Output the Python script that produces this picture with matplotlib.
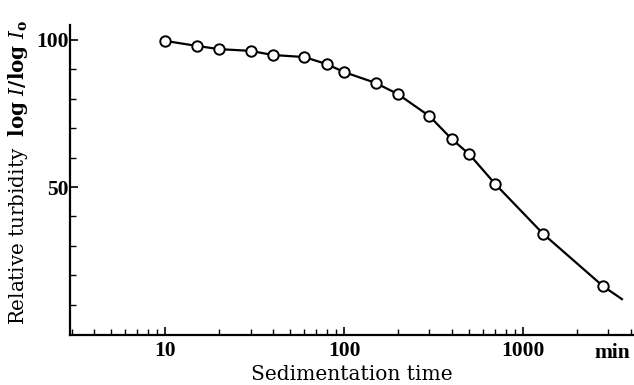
import matplotlib
matplotlib.use("Agg")
import matplotlib.pyplot as plt
from matplotlib.ticker import FixedLocator, NullFormatter, FixedFormatter
import matplotlib.transforms as mtransforms

# Data
time_min = [10, 15, 20, 30, 40, 60, 80, 100, 150, 200, 300, 400, 500, 700, 1300, 2800]
turbidity = [99.7, 98.0, 96.9, 96.3, 94.9, 94.2, 91.8, 89.1, 85.4, 81.6, 74.1, 66.3, 61.2, 51.0, 34.0, 16.3]
# curve continues past the last point
curve_end_time = [3570]
curve_end_val = [11.9]

x_major = [10, 100, 1000]
x_major_labels = ["10", "100", "1000"]
y_major = [50, 100]
y_minor = [10, 20, 30, 40, 60, 70, 80, 90]

plt.rcParams['font.family'] = ['DejaVu Serif']
plt.rcParams['mathtext.fontset'] = 'dejavuserif'

fig = plt.figure(figsize=(6.34, 3.85), dpi=100)
ax = fig.add_axes([70/634, 50/385, 564/634, 310/385])

ax.plot(time_min + curve_end_time, turbidity + curve_end_val, color='black', lw=1.6, zorder=2)
ax.plot(time_min, turbidity, linestyle='none', marker='o', ms=7.5, mfc='white', mec='black', mew=1.4, zorder=3)

ax.set_xscale('log')
ax.set_xlim(2.94, 4170)
ax.set_ylim(-0.3, 105.1)

for s in ['top', 'right']:
    ax.spines[s].set_visible(False)
for s in ['left', 'bottom']:
    ax.spines[s].set_linewidth(1.6)

ax.xaxis.set_major_locator(FixedLocator(x_major))
ax.xaxis.set_major_formatter(FixedFormatter(x_major_labels))
minors = [m * d for d in [1, 10, 100, 1000] for m in range(2, 10) if 3 <= m * d <= 4100]
ax.xaxis.set_minor_locator(FixedLocator(minors))
ax.xaxis.set_minor_formatter(NullFormatter())

ax.yaxis.set_major_locator(FixedLocator(y_major))
ax.yaxis.set_minor_locator(FixedLocator(y_minor))

ax.tick_params(axis='both', which='major', direction='in', length=6, width=1.2, pad=4)
ax.tick_params(axis='both', which='minor', direction='in', length=4, width=1.0)
ax.tick_params(axis='y', which='major', pad=1)
for lab in ax.get_xticklabels() + ax.get_yticklabels():
    lab.set_fontfamily('Liberation Serif')
    lab.set_fontweight('bold')
    lab.set_fontsize(15.5)

trans = mtransforms.blended_transform_factory(ax.transData, ax.transAxes)
ax.text(3150, -0.025, "min", transform=trans, ha='center', va='top', fontsize=15.5,
        fontfamily='Liberation Serif', fontweight='bold')

ax.set_xlabel("Sedimentation time", fontsize=14.5, labelpad=3)
ax.set_ylabel(r"Relative turbidity  $\mathbf{log}$ $\mathbf{\mathit{I}}$$\mathbf{/log}$ $\mathbf{\mathit{I}}_{\mathbf{o}}$",
              fontsize=14.3)
ax.yaxis.set_label_coords(-0.071, 0.525)

fig.savefig("out.png", dpi=100)
